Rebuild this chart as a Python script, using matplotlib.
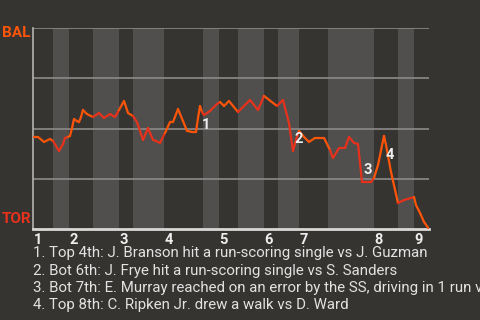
import matplotlib
matplotlib.use("Agg")
import matplotlib.pyplot as plt
from matplotlib.collections import LineCollection
import numpy as np

plt.rcParams['font.family'] = ['Roboto', 'DejaVu Sans']

# half-inning start positions (play sequence), top/bottom alternating
half_starts = [0, 20, 36, 60, 86, 100, 131, 170, 186, 205, 231, 245, 266, 295, 341, 365, 381]
game_end = 396
innings = ['1', '2', '3', '4', '5', '6', '7', '8', '9']

# BAL win probability (%) along the game
play_x = [0, 5, 11, 17, 20, 26, 30, 32, 35, 37, 39, 41, 44, 46, 48, 50, 54, 60, 66, 71,
          77, 82, 86, 91, 95, 100, 104, 110, 115, 120, 123, 127, 132, 137, 140, 145, 150,
          154, 159, 163, 165, 167, 169, 171, 177, 184, 187, 191, 196, 205, 217, 225, 231,
          244, 250, 256, 260, 263, 266, 271, 276, 282, 291, 297, 300, 306, 312, 316, 321,
          325, 329, 338, 341, 345, 351, 353, 358, 365, 371, 381, 383, 387, 391, 396]
bal_wp = [45.8, 45.8, 43.3, 44.8, 43.8, 38.8, 42.3, 45.3, 45.8, 46.3, 50.2, 54.7, 53.7,
          53.2, 55.7, 59.2, 57.2, 55.7, 57.7, 55.2, 57.2, 55.7, 59.2, 63.7, 57.7, 56.2,
          53.2, 44.3, 50.2, 44.3, 43.8, 42.8, 47.8, 53.2, 53.2, 59.7, 53.7, 48.8, 48.3,
          48.3, 55.2, 61.2, 58.2, 56.7, 58.7, 62.2, 63.2, 61.2, 63.7, 58.2, 64.2, 59.2,
          66.2, 61.2, 64.2, 52.7, 38.8, 44.3, 48.8, 45.8, 43.3, 45.3, 45.3, 39.3, 35.3,
          40.3, 40.3, 45.8, 42.8, 42.3, 23.4, 23.4, 25.4, 31.8, 46.3, 41.8, 28.4, 12.9,
          14.4, 15.9, 11.9, 8.0, 3.5, 0.0]

# key plays
event_x = [167, 260, 329, 351]
event_wp = [61.2, 38.8, 23.4, 46.3]
event_labels = ['1', '2', '3', '4']
event_text = [
    "1. Top 4th: J. Branson hit a run-scoring single vs J. Guzman",
    "2. Bot 6th: J. Frye hit a run-scoring single vs S. Sanders",
    "3. Bot 7th: E. Murray reached on an error by the SS, driving in 1 run vs",
    "4. Top 8th: C. Ripken Jr. drew a walk vs D. Ward",
]

bg = '#363431'
band = '#504f4d'
orange = '#ff5508'
red = '#e6321c'

fig = plt.figure(figsize=(4.8, 3.2), dpi=100, facecolor=bg)
ax = fig.add_axes([33 / 480, 1 - 229 / 320, 396 / 480, 201 / 320])
ax.set_facecolor(bg)
ax.set_xlim(0, game_end)
ax.set_ylim(0, 100)

# shade bottom halves
bounds = half_starts + [game_end]
for i in range(len(half_starts)):
    if i % 2 == 1:
        ax.axvspan(bounds[i], bounds[i + 1], color=band, lw=0, zorder=0)

for g in [25, 50, 75, 100]:
    ax.axhline(g, color='#8c8b89', lw=1.2, zorder=1)

# line coloured by who is batting
pts = np.column_stack([play_x, bal_wp])
segs = np.stack([pts[:-1], pts[1:]], axis=1)
cols = []
for s in segs:
    mid = (s[0][0] + s[1][0]) / 2
    idx = np.searchsorted(half_starts, mid, side='right') - 1
    cols.append(orange if idx % 2 == 0 else red)
lc = LineCollection(segs, colors=cols, linewidths=1.6, zorder=3, capstyle='round')
ax.add_collection(lc)

for x, y, lab in zip(event_x, event_wp, event_labels):
    dy = -14 if lab in ('1', '4') else 8.5
    ax.annotate(lab, (x, y), xytext=(4, dy), textcoords='offset points',
                ha='center', va='center', color='#eeeeee', fontsize=10.5,
                fontweight='bold', zorder=4)

for sp in ['top', 'right']:
    ax.spines[sp].set_visible(False)
ax.spines['left'].set_color('#b5b4b2')
ax.spines['left'].set_linewidth(1.2)
ax.spines['bottom'].set_color('#d8d8d8')
ax.spines['bottom'].set_linewidth(2)
ax.set_xticks([])
ax.set_yticks([])

# inning numbers
inning_starts = half_starts[::2]
for x, lab in zip(inning_starts, innings):
    ax.text(x + 0.5, -2, lab, transform=ax.transData, ha='left', va='top',
            color='#eeeeee', fontsize=10.5, fontweight='bold', clip_on=False)

fig.text(2 / 480, 1 - 33 / 320, 'BAL', color=orange, fontsize=11,
         fontweight='bold', va='center', ha='left')
fig.text(2 / 480, 1 - 219 / 320, 'TOR', color=red, fontsize=11,
         fontweight='bold', va='center', ha='left')

for i, t in enumerate(event_text):
    fig.text(33 / 480, 1 - (253 + i * 17.5) / 320, t, color='#e2e2e2',
             fontsize=10.8, va='center', ha='left')

fig.savefig('out.png', dpi=100, facecolor=bg)
